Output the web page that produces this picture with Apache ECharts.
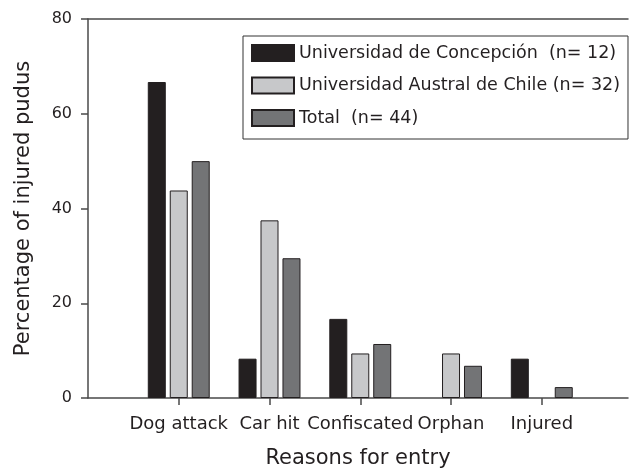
<!DOCTYPE html>
<html>
<head>
<meta charset="utf-8">
<script src="https://cdn.jsdelivr.net/npm/echarts@6/dist/echarts.min.js"></script>
<style>
html,body{margin:0;padding:0;background:#fff;}
#chart{width:629px;height:474px;}
</style>
</head>
<body>
<div id="chart"></div>
<script>
// reasons for entry, one bar group each
var categories = ['Dog attack', 'Car hit', 'Confiscated', 'Orphan', 'Injured'];
var concepcion = [66.7, 8.3, 16.7, 0, 8.3];   // n = 12
var austral = [43.8, 37.5, 9.4, 9.4, 0];       // n = 32
var total = [50.0, 29.5, 11.4, 6.8, 2.3];      // n = 44
var seriesNames = ['Universidad de Concepción  (n= 12)', 'Universidad Austral de Chile (n= 32)', 'Total  (n= 44)'];
var yTicks = [0, 20, 40, 60, 80];

var font = 'DejaVu Sans';
var textColor = '#231f20';
var lineColor = '#4a4a4a';

// groups sit on x = 1..5 of a value axis
var positions = categories.map(function (c, i) { return i + 1; });
function toPoints(values) {
    return values.map(function (v, i) {
        var item = {value: [positions[i], v]};
        // a zero bar leaves no outline on the axis
        if (v === 0) {
            item.itemStyle = {borderWidth: 0, opacity: 0};
        }
        return item;
    });
}

function barSeries(name, values, color) {
    return {
        name: name,
        type: 'bar',
        barWidth: 18,
        barGap: '22%',
        itemStyle: {
            color: color,
            borderColor: '#231f20',
            borderWidth: 1
        },
        data: toPoints(values)
    };
}

var chart = echarts.init(document.getElementById('chart'), null, {renderer: 'canvas'});
var option = {
    backgroundColor: '#fff',
    animation: false,
    grid: {
        left: 88,
        right: 1,
        top: 19,
        bottom: 74,
        containLabel: false
    },
    legend: {
        left: 243,
        top: 36,
        orient: 'vertical',
        itemWidth: 42,
        itemHeight: 16,
        itemGap: 14.5,
        padding: [8, 8, 12, 8],
        borderColor: '#333',
        borderWidth: 1,
        backgroundColor: '#fff',
        icon: 'rect',
        textStyle: {
            fontFamily: font,
            fontSize: 17.5,
            color: textColor
        },
        data: seriesNames
    },
    xAxis: [{
        type: 'value',
        min: 0,
        max: 5.95,
        interval: 1,
        name: 'Reasons for entry',
        nameLocation: 'middle',
        nameGap: 50,
        nameTextStyle: {
            fontFamily: font,
            fontSize: 21,
            color: textColor
        },
        axisLine: {
            show: true,
            lineStyle: {color: lineColor, width: 1.5}
        },
        axisTick: {
            show: true,
            inside: false,
            length: 7,
            customValues: positions,
            lineStyle: {color: lineColor, width: 1.5}
        },
        axisLabel: {
            show: true,
            margin: 17,
            customValues: positions,
            fontFamily: font,
            fontSize: 18,
            color: textColor,
            formatter: function (v) {
                return categories[Math.round(v) - 1] || '';
            }
        },
        splitLine: {show: false}
    }, {
        // plain line along the top of the frame
        type: 'value',
        position: 'top',
        min: 0,
        max: 5.95,
        axisLine: {
            show: true,
            lineStyle: {color: lineColor, width: 1.5}
        },
        axisTick: {show: false},
        axisLabel: {show: false},
        splitLine: {show: false}
    }],
    yAxis: {
        type: 'value',
        min: yTicks[0],
        max: yTicks[yTicks.length - 1],
        interval: 20,
        name: 'Percentage of injured pudus',
        nameLocation: 'middle',
        nameGap: 54,
        nameTextStyle: {
            fontFamily: font,
            fontSize: 21,
            color: textColor
        },
        axisLine: {
            show: true,
            lineStyle: {color: lineColor, width: 1.5}
        },
        axisTick: {
            show: true,
            inside: false,
            length: 7,
            lineStyle: {color: lineColor, width: 1.5}
        },
        axisLabel: {
            margin: 16,
            fontFamily: font,
            fontSize: 16,
            color: textColor
        },
        splitLine: {show: false}
    },
    series: [
        barSeries(seriesNames[0], concepcion, '#231f20'),
        barSeries(seriesNames[1], austral, '#c7c8ca'),
        barSeries(seriesNames[2], total, '#737476')
    ]
};
chart.setOption(option);
window.addEventListener('resize', function () {
    chart.resize();
});
</script>
</body>
</html>
